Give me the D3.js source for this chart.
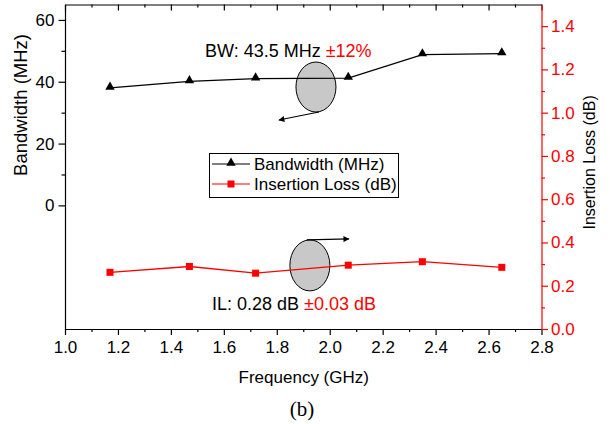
<!DOCTYPE html>
<html>
<head>
<meta charset="utf-8">
<script src="https://cdn.jsdelivr.net/npm/d3@7"></script>
<style>
  body { margin: 0; background: #fff; }
  svg { display: block; font-family: "Liberation Sans", Arial, sans-serif; }
</style>
</head>
<body>
<script>
// chart data
const freq = [1.17, 1.47, 1.72, 2.07, 2.35, 2.65];
const bandwidth = [38.0, 40.1, 41.0, 41.2, 48.8, 49.1];
const insertionLoss = [0.262, 0.289, 0.258, 0.295, 0.311, 0.285];

const xTicks = [1.0, 1.2, 1.4, 1.6, 1.8, 2.0, 2.2, 2.4, 2.6, 2.8];
const bwTicks = [0, 20, 40, 60];
const ilTicks = [0.0, 0.2, 0.4, 0.6, 0.8, 1.0, 1.2, 1.4];

const seriesNames = ["Bandwidth (MHz)", "Insertion Loss (dB)"];

let svgWidth = 610;
let svgHeight = 424;
const RED = "#ff0000";

let svg = d3.select("body").append("svg")
  .attr("width", svgWidth)
  .attr("height", svgHeight);

// scales (absolute pixel ranges)
let xScale = d3.scaleLinear().domain([1.0, 2.8]).range([65, 541.5]);
let yLeft = d3.scaleLinear().domain([-40, 65]).range([329, 4.5]);
let yRight = d3.scaleLinear().domain([0, 1.5]).range([329, 4.5]);

// minor ticks halfway between majors
const mids = arr => arr.slice(0, -1).map((v, i) => (v + arr[i + 1]) / 2);

function styleAxis(g, color, size) {
  g.selectAll("path").attr("stroke", color).attr("stroke-width", 1.2);
  g.selectAll("line").attr("stroke", color).attr("stroke-width", 1.2);
  g.selectAll("text").attr("fill", color).style("font-size", size + "px")
    .style("font-family", "'Liberation Sans', Arial, sans-serif");
}

// bottom axis
let bottomAxis = svg.append("g").attr("transform", `translate(0, ${yLeft.range()[0]})`);
bottomAxis.call(d3.axisBottom(xScale).tickValues(xTicks).tickSize(6).tickSizeOuter(0)
  .tickPadding(6).tickFormat(d3.format(".1f")));
styleAxis(bottomAxis, "#000", 17);
let bottomMinor = svg.append("g").attr("transform", `translate(0, ${yLeft.range()[0]})`)
  .call(d3.axisBottom(xScale).tickValues(mids(xTicks)).tickSize(3).tickFormat(""));
bottomMinor.select("path").remove();
styleAxis(bottomMinor, "#000", 17);

// top frame with inward ticks
let topAxis = svg.append("g").attr("transform", `translate(0, ${yLeft.range()[1]})`)
  .call(d3.axisTop(xScale).tickValues(xTicks).tickSize(-6).tickSizeOuter(0).tickFormat(""));
styleAxis(topAxis, "#000", 17);
let topMinor = svg.append("g").attr("transform", `translate(0, ${yLeft.range()[1]})`)
  .call(d3.axisTop(xScale).tickValues(mids(xTicks)).tickSize(-3).tickFormat(""));
topMinor.select("path").remove();
styleAxis(topMinor, "#000", 17);

// left axis
let leftAxis = svg.append("g").attr("transform", `translate(${xScale.range()[0]}, 0)`)
  .call(d3.axisLeft(yLeft).tickValues(bwTicks).tickSize(6.5).tickSizeOuter(0).tickPadding(4));
styleAxis(leftAxis, "#000", 17);
let leftMinor = svg.append("g").attr("transform", `translate(${xScale.range()[0]}, 0)`)
  .call(d3.axisLeft(yLeft).tickValues(mids(bwTicks)).tickSize(3.5).tickFormat(""));
leftMinor.select("path").remove();
styleAxis(leftMinor, "#000", 17);

// right axis
let rightAxis = svg.append("g").attr("transform", `translate(${xScale.range()[1]}, 0)`)
  .call(d3.axisRight(yRight).tickValues(ilTicks).tickSize(6.5).tickSizeOuter(0)
    .tickPadding(3).tickFormat(d3.format(".1f")));
styleAxis(rightAxis, RED, 17);
let rightMinor = svg.append("g").attr("transform", `translate(${xScale.range()[1]}, 0)`)
  .call(d3.axisRight(yRight).tickValues(mids(ilTicks.concat([1.6])).filter(v => v < 1.5)).tickSize(3.5).tickFormat(""));
rightMinor.select("path").remove();
styleAxis(rightMinor, RED, 17);

// axis titles
svg.append("text")
  .attr("x", (xScale.range()[0] + xScale.range()[1]) / 2 + 0.5)
  .attr("y", 383)
  .attr("text-anchor", "middle")
  .style("font-size", "17px")
  .text("Frequency (GHz)");

svg.append("text")
  .attr("transform", `translate(27, ${(yLeft(0) + yLeft(65)) / 2}) rotate(-90)`)
  .attr("text-anchor", "middle")
  .style("font-size", "18.5px")
  .text("Bandwidth (MHz)");

svg.append("text")
  .attr("transform", `translate(595, ${yRight(0.77)}) rotate(-90)`)
  .attr("text-anchor", "middle")
  .style("font-size", "16px")
  .text("Insertion Loss (dB)");

svg.append("text")
  .attr("x", 302)
  .attr("y", 416)
  .attr("text-anchor", "middle")
  .style("font-family", "'Liberation Serif', 'Times New Roman', serif")
  .style("font-size", "21px")
  .text("(b)");

// annotation ellipses and arrows (behind the lines)
let defs = svg.append("defs");
defs.append("marker")
  .attr("id", "arrow")
  .attr("viewBox", "0 0 10 10")
  .attr("refX", 9).attr("refY", 5)
  .attr("markerWidth", 9).attr("markerHeight", 6)
  .attr("markerUnits", "userSpaceOnUse")
  .attr("orient", "auto")
  .append("path").attr("d", "M0,0 L10,5 L0,10 Z").attr("fill", "#000");

const ann = svg.append("g");
const bwEll = { x: xScale(1.948), y: yLeft(38.3) };
const ilEll = { x: xScale(1.925), y: yRight(0.294) };

ann.append("ellipse")
  .attr("cx", bwEll.x).attr("cy", bwEll.y).attr("rx", 20).attr("ry", 25)
  .attr("fill", "#c8c8c8").attr("stroke", "#000").attr("stroke-width", 1);
ann.append("line")
  .attr("x1", bwEll.x + 3).attr("y1", bwEll.y + 25)
  .attr("x2", bwEll.x - 37).attr("y2", bwEll.y + 33)
  .attr("stroke", "#000").attr("stroke-width", 1.2)
  .attr("marker-end", "url(#arrow)");

ann.append("ellipse")
  .attr("cx", ilEll.x).attr("cy", ilEll.y).attr("rx", 20).attr("ry", 25.5)
  .attr("fill", "#c8c8c8").attr("stroke", "#000").attr("stroke-width", 1);
ann.append("line")
  .attr("x1", ilEll.x - 3).attr("y1", ilEll.y - 25.5)
  .attr("x2", ilEll.x + 39).attr("y2", ilEll.y - 26.5)
  .attr("stroke", "#000").attr("stroke-width", 1.2)
  .attr("marker-end", "url(#arrow)");

// annotation texts
let bwText = svg.append("text").attr("x", 205).attr("y", 57).style("font-size", "18px");
bwText.append("tspan").text("BW: 43.5 MHz ");
bwText.append("tspan").attr("fill", RED).text("\u00b112%");

let ilText = svg.append("text").attr("x", 212).attr("y", 309.5).style("font-size", "18px");
ilText.append("tspan").text("IL: 0.28 dB ");
ilText.append("tspan").attr("fill", RED).text("\u00b10.03 dB");

// series
const bwData = freq.map((f, i) => ({ f: f, v: bandwidth[i] }));
const ilData = freq.map((f, i) => ({ f: f, v: insertionLoss[i] }));

svg.append("path")
  .datum(bwData)
  .attr("fill", "none").attr("stroke", "#000").attr("stroke-width", 1.3)
  .attr("d", d3.line().x(d => xScale(d.f)).y(d => yLeft(d.v)));

svg.append("path")
  .datum(ilData)
  .attr("fill", "none").attr("stroke", RED).attr("stroke-width", 1.3)
  .attr("d", d3.line().x(d => xScale(d.f)).y(d => yRight(d.v)));

const tri = d3.symbol().type(d3.symbolTriangle).size(38);
svg.selectAll(".tri")
  .data(bwData)
  .enter()
  .append("path")
  .classed("tri", true)
  .attr("transform", d => `translate(${xScale(d.f)}, ${yLeft(d.v) - 1})`)
  .attr("d", tri)
  .attr("fill", "#000");

svg.selectAll(".sq")
  .data(ilData)
  .enter()
  .append("rect")
  .classed("sq", true)
  .attr("x", d => xScale(d.f) - 3.5)
  .attr("y", d => yRight(d.v) - 3.5)
  .attr("width", 7).attr("height", 7)
  .attr("fill", RED);

// legend
let legend = svg.append("g");
legend.append("rect")
  .attr("x", 209.5).attr("y", 153.5).attr("width", 189).attr("height", 44)
  .attr("fill", "#fff").attr("stroke", "#000").attr("stroke-width", 1);

const legendRows = [
  { name: seriesNames[0], color: "#000", y: 164 },
  { name: seriesNames[1], color: RED, y: 184 }
];
legendRows.forEach((r, i) => {
  legend.append("line")
    .attr("x1", 212).attr("x2", 250).attr("y1", r.y).attr("y2", r.y)
    .attr("stroke", r.color).attr("stroke-width", 1.2);
  if (i === 0) {
    legend.append("path").attr("transform", `translate(231, ${r.y - 1})`)
      .attr("d", tri).attr("fill", "#000");
  } else {
    legend.append("rect").attr("x", 227.5).attr("y", r.y - 3.5)
      .attr("width", 7).attr("height", 7).attr("fill", RED);
  }
  legend.append("text")
    .attr("x", 254).attr("y", r.y + 6)
    .style("font-size", "17px")
    .text(r.name);
});
</script>
</body>
</html>
